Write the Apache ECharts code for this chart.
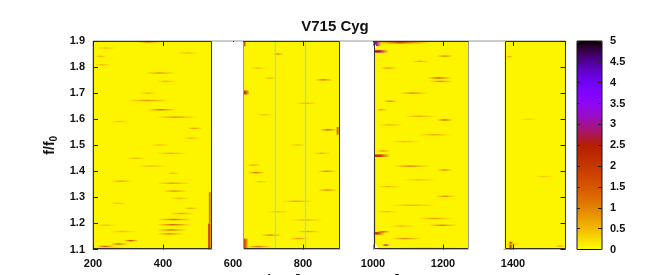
<!DOCTYPE html>
<html><head><meta charset="utf-8">
<script src="https://cdn.jsdelivr.net/npm/echarts@6/dist/echarts.min.js"></script>
<style>html,body{margin:0;padding:0;background:#fff}#c{width:666px;height:275px}</style>
</head><body><div id="c"></div>
<script>
// ---- data ----
const title = 'V715 Cyg';
const xName = 'Time [BJD - 2454000]';
const xTickStep = 200;
const xRange = [200, 1550];
const yRange = [1.1, 1.9];
const cbRange = [0, 5];
// observing segments [x0, x1]
const segments = [[200, 539], [629, 906], [1002, 1272], [1376, 1550]];
// typical background level inside segments
const baseLevel = 0.07;
// horizontal streaks [x0, x1, f/f0, value]
const streaks = [
  // segment 1
  [326, 397, 1.897, 1.5], [205, 240, 1.841, 0.6], [205, 250, 1.809, 0.5], [210, 268, 1.873, 0.45],
  [439, 506, 1.854, 0.45], [349, 440, 1.777, 0.8], [382, 439, 1.745, 0.5], [334, 382, 1.700, 0.5],
  [297, 420, 1.672, 0.8], [354, 440, 1.636, 1.2], [383, 497, 1.608, 1.0], [249, 306, 1.591, 0.45],
  [469, 514, 1.565, 0.7], [458, 506, 1.527, 0.5], [363, 420, 1.501, 0.45], [380, 470, 1.469, 0.6],
  [296, 353, 1.450, 0.45], [325, 411, 1.420, 0.5], [249, 314, 1.362, 0.7], [383, 480, 1.354, 0.7],
  [411, 449, 1.392, 0.5], [400, 470, 1.324, 0.9], [420, 477, 1.296, 0.5], [249, 296, 1.277, 0.45],
  [460, 500, 1.258, 0.6], [420, 490, 1.238, 0.7], [383, 486, 1.215, 1.1], [383, 480, 1.195, 1.3],
  [210, 268, 1.193, 0.45], [383, 470, 1.175, 1.2], [249, 325, 1.169, 0.45], [383, 460, 1.160, 1.0],
  [211, 262, 1.112, 1.4], [250, 300, 1.121, 1.4], [288, 330, 1.134, 1.7], [215, 300, 1.104, 1.0],
  // segment 2
  [714, 746, 1.850, 1.0], [649, 696, 1.796, 0.45], [690, 725, 1.758, 0.6], [834, 886, 1.751, 1.2],
  [780, 840, 1.661, 0.6], [668, 715, 1.617, 0.45], [849, 897, 1.559, 1.5], [763, 811, 1.501, 0.45],
  [830, 880, 1.469, 0.6], [640, 680, 1.424, 0.7], [643, 691, 1.395, 1.3], [843, 895, 1.400, 1.0],
  [660, 700, 1.360, 0.45], [843, 900, 1.328, 1.0], [740, 830, 1.285, 0.7], [696, 763, 1.245, 0.45],
  [763, 858, 1.213, 0.5], [780, 850, 1.169, 0.7], [680, 740, 1.155, 1.0], [760, 820, 1.142, 0.8],
  [640, 710, 1.111, 1.2],
  // segment 3
  [1006, 1163, 1.893, 1.6], [1183, 1229, 1.842, 1.0], [1110, 1160, 1.822, 0.6], [1020, 1070, 1.796, 0.8],
  [1154, 1226, 1.758, 1.5], [1160, 1230, 1.745, 1.0], [1077, 1154, 1.700, 1.0], [1030, 1070, 1.669, 1.0],
  [1010, 1040, 1.636, 0.8], [1090, 1180, 1.611, 0.6], [1183, 1229, 1.597, 1.5], [1011, 1087, 1.578, 0.5],
  [1130, 1230, 1.540, 0.6], [1049, 1134, 1.514, 0.5], [1010, 1050, 1.478, 0.8], [1057, 1163, 1.420, 1.2],
  [1183, 1229, 1.405, 1.0], [1087, 1182, 1.367, 0.5], [1011, 1080, 1.341, 0.5], [1180, 1235, 1.304, 0.9],
  [1049, 1182, 1.270, 0.5], [1011, 1070, 1.245, 0.5], [1130, 1230, 1.219, 0.7], [1160, 1240, 1.193, 1.0],
  [1049, 1120, 1.190, 0.5], [1010, 1050, 1.168, 1.5], [1050, 1140, 1.142, 0.9], [1026, 1049, 1.117, 3.0],
  [1060, 1250, 1.104, 0.8],
  // segment 4
  [1380, 1400, 1.840, 0.7], [1376, 1420, 1.120, 0.6], [1520, 1550, 1.113, 0.7], [1420, 1470, 1.600, 0.35],
  [1460, 1520, 1.380, 0.35]
];
// compact features [x0, x1, f0, f1, value]
const patches = [
  [529, 539, 1.100, 1.200, 1.9], [531, 539, 1.200, 1.320, 1.2],
  [629, 648, 1.695, 1.710, 2.0], [629, 638, 1.880, 1.900, 1.8], [896, 906, 1.540, 1.570, 1.2],
  [629, 645, 1.104, 1.142, 1.6],
  [1002, 1024, 1.880, 1.900, 3.0], [1004, 1045, 1.855, 1.865, 2.8], [1004, 1050, 1.455, 1.465, 2.0],
  [1002, 1034, 1.157, 1.167, 2.0], [1002, 1008, 1.100, 1.450, 1.2],
  [1390, 1400, 1.100, 1.130, 1.8]
];
// empty notches [x0, x1, f0, f1]
const holes = [[1002, 1018, 1.100, 1.132], [1003, 1012, 1.875, 1.893], [629, 634, 1.100, 1.110]];
// faint vertical lines in segment 2
const greenLines = [720, 806];

// ---- gnuplot-like palette (rgbformulae 7,5,15, reversed) ----
function gp(v) {
  const g = 1 - v / 5;
  const r = Math.sqrt(g), gg = g * g * g, b = Math.max(0, Math.sin(2 * Math.PI * g));
  return 'rgb(' + Math.round(r * 255) + ',' + Math.round(gg * 255) + ',' + Math.round(b * 255) + ')';
}
const palette = [];
for (let i = 0; i <= 40; i++) palette.push(gp(5 * i / 40));

const HT = 0.0027;
const bgData = segments.map(s => [s[0], s[1], yRange[0], yRange[1], baseLevel]);
const streakData = streaks.map(s => [s[0], s[1], s[2] - HT, s[2] + HT, s[3]]);
const gapData = [];
for (let i = 0; i < segments.length - 1; i++) gapData.push([segments[i][1], segments[i + 1][0], yRange[0], yRange[1]]);

function rectOf(api) {
  const p0 = api.coord([api.value(0), api.value(2)]);
  const p1 = api.coord([api.value(1), api.value(3)]);
  return { x: p0[0], y: p1[1], width: p1[0] - p0[0], height: p0[1] - p1[1] };
}

const chart = echarts.init(document.getElementById('c'), null, { renderer: 'canvas' });
const font = 'Liberation Sans, Arial, sans-serif';
const axisCommon = {
  axisLine: { show: false },
  splitLine: { show: false },
  axisTick: { inside: true, length: 5, lineStyle: { color: '#222' } },
  z: 10
};
chart.setOption({
  animation: false,
  backgroundColor: '#fff',
  textStyle: { fontFamily: font },
  title: {
    text: title, left: 330, top: 14, textAlign: 'center',
    textStyle: { fontSize: 15, fontWeight: 'bold', color: '#111', fontFamily: font }
  },
  grid: [
    { left: 93, top: 41, width: 472.5, height: 208.5, show: true, borderColor: '#999', borderWidth: 1, backgroundColor: 'transparent', outerBoundsMode: 'none', containLabel: false },
    { left: 577, top: 41, width: 25, height: 208.5, show: true, borderColor: '#111', borderWidth: 1, backgroundColor: 'transparent', z: 10, outerBoundsMode: 'none', containLabel: false }
  ],
  xAxis: [
    Object.assign({}, axisCommon, {
      type: 'value', gridIndex: 0, min: xRange[0], max: xRange[1], interval: xTickStep, position: 'bottom',
      axisLabel: { margin: 9, fontSize: 11, fontWeight: 'bold', color: '#111', fontFamily: font, showMaxLabel: false, formatter: v => String(v) },
      name: xName, nameLocation: 'middle', nameGap: 21,
      nameTextStyle: { fontSize: 14, fontWeight: 'bold', color: '#111', fontFamily: font, verticalAlign: 'top' }
    }),
    Object.assign({}, axisCommon, {
      type: 'value', gridIndex: 0, min: xRange[0], max: xRange[1], interval: xTickStep, position: 'top',
      axisLabel: { show: false }
    }),
    { type: 'value', gridIndex: 1, min: 0, max: 1, show: false }
  ],
  yAxis: [
    Object.assign({}, axisCommon, {
      type: 'value', gridIndex: 0, min: yRange[0], max: yRange[1], interval: 0.1, position: 'left',
      axisLabel: { margin: 8, fontSize: 11, fontWeight: 'bold', color: '#111', fontFamily: font, formatter: v => v.toFixed(1) },
      name: '{a|f/f}{s|0}', nameLocation: 'middle', nameGap: 29,
      nameTextStyle: {
        rich: {
          a: { fontSize: 14, fontWeight: 'bold', color: '#111', fontFamily: font },
          s: { fontSize: 10, fontWeight: 'bold', color: '#111', fontFamily: font, verticalAlign: 'bottom', padding: [8, 0, 0, 0] }
        }
      }
    }),
    Object.assign({}, axisCommon, {
      type: 'value', gridIndex: 0, min: yRange[0], max: yRange[1], interval: 0.1, position: 'right',
      axisLabel: { show: false }
    }),
    Object.assign({}, axisCommon, {
      type: 'value', gridIndex: 1, min: cbRange[0], max: cbRange[1], interval: 0.5, position: 'left',
      axisTick: { inside: true, length: 3, lineStyle: { color: '#222' } },
      axisLabel: { show: false }
    }),
    Object.assign({}, axisCommon, {
      type: 'value', gridIndex: 1, min: cbRange[0], max: cbRange[1], interval: 0.5, position: 'right',
      axisTick: { inside: true, length: 4, lineStyle: { color: '#222' } },
      axisLabel: { margin: 8, fontSize: 11, fontWeight: 'bold', color: '#111', fontFamily: font }
    })
  ],
  visualMap: {
    type: 'continuous', min: cbRange[0], max: cbRange[1], dimension: 4, seriesIndex: [0, 1, 2],
    inRange: { color: palette }, calculable: false, show: true, hoverLink: false,
    left: 577, top: 41, itemWidth: 25, itemHeight: 208.5, padding: 0, text: null, showLabel: false,
    orient: 'vertical', z: 4
  },
  series: [
    { type: 'custom', name: 'background', xAxisIndex: 0, yAxisIndex: 0, data: bgData, z: 2,
      renderItem: (p, api) => ({ type: 'rect', shape: rectOf(api), style: { fill: api.visual('color') } }) },
    { type: 'custom', name: 'patches', xAxisIndex: 0, yAxisIndex: 0, data: patches, z: 3,
      renderItem: (p, api) => {
        const c = api.visual('color');
        return { type: 'rect', shape: rectOf(api), style: {
          fill: new echarts.graphic.LinearGradient(0, 0, 1, 0, [
            { offset: 0, color: c }, { offset: 0.35, color: c }, { offset: 1, color: echarts.color.modifyAlpha(c, 0) }]) } };
      } },
    { type: 'custom', name: 'streaks', xAxisIndex: 0, yAxisIndex: 0, data: streakData, z: 3,
      renderItem: (p, api) => {
        const c = api.visual('color');
        return { type: 'rect', shape: rectOf(api), style: {
          fill: new echarts.graphic.LinearGradient(0, 0, 1, 0, [
            { offset: 0, color: echarts.color.modifyAlpha(c, 0) },
            { offset: 0.45, color: c },
            { offset: 1, color: echarts.color.modifyAlpha(c, 0) }]) } };
      } },
    { type: 'custom', name: 'holes', xAxisIndex: 0, yAxisIndex: 0, data: holes, z: 4,
      renderItem: (p, api) => {
        const r = rectOf(api);
        return { type: 'polygon', shape: { points: [[r.x, r.y + r.height], [r.x, r.y], [r.x + r.width, r.y + r.height]] }, style: { fill: '#fff' } };
      } },
    { type: 'custom', name: 'greenLines', xAxisIndex: 0, yAxisIndex: 0, data: greenLines.map(x => [x]), z: 5,
      renderItem: (p, api) => {
        const a = api.coord([api.value(0), yRange[0]]), b = api.coord([api.value(0), yRange[1]]);
        return { type: 'line', shape: { x1: Math.round(a[0]) + 0.5, y1: a[1], x2: Math.round(b[0]) + 0.5, y2: b[1] }, style: { stroke: '#a6e39a', lineWidth: 1.3 } };
      } },
    { type: 'custom', name: 'outlines', xAxisIndex: 0, yAxisIndex: 0, data: segments.map(s => [s[0], s[1], yRange[0], yRange[1]]), z: 6,
      renderItem: (p, api) => {
        const r = rectOf(api);
        return { type: 'rect', shape: { x: Math.round(r.x) + 0.5, y: Math.round(r.y) + 0.5, width: Math.round(r.width) - 1, height: Math.round(r.height) - 1 },
          style: { fill: null, stroke: '#333', lineWidth: 1 } };
      } },
    { type: 'custom', name: 'gaps', xAxisIndex: 0, yAxisIndex: 0, data: gapData, z: 11,
      renderItem: (p, api) => {
        const r = rectOf(api);
        return { type: 'rect', shape: { x: Math.round(r.x) + 0.5, y: Math.round(r.y) + 1, width: Math.round(r.width) - 1, height: r.height + 2 }, style: { fill: '#fff' } };
      } }
  ]
});
</script></body></html>
